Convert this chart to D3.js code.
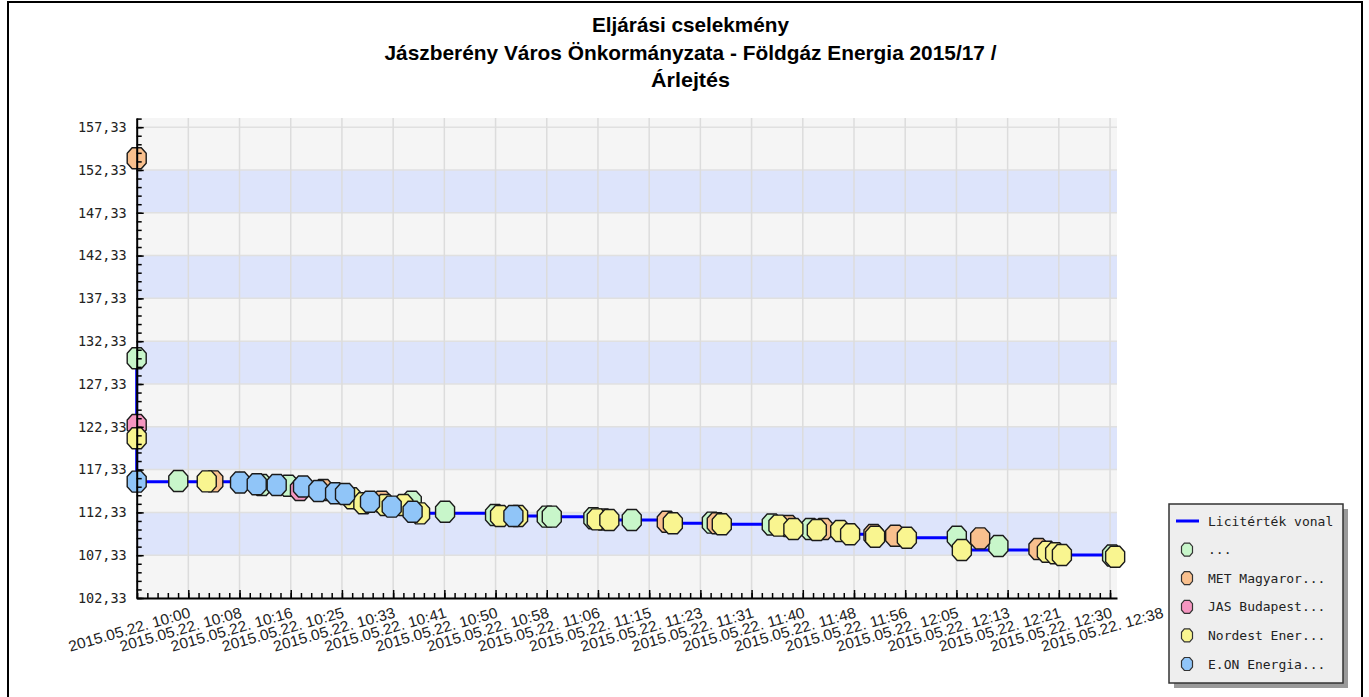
<!DOCTYPE html>
<html>
<head>
<meta charset="utf-8">
<script src="https://cdn.jsdelivr.net/npm/d3@7"></script>
<style>
  body { margin: 0; background: #fff; }
  svg { display: block; }
</style>
</head>
<body>
<div id="chart"></div>
<script>
// bids per bidder: [time, value]
const bidsDots = [
  ["09:51:36", 130.33], ["09:58:22", 116.00], ["10:11:57", 115.53], ["10:16:17", 115.45],
  ["10:36:22", 113.58], ["10:41:47", 112.41], ["10:49:55", 112.03], ["10:58:20", 111.83],
  ["10:59:09", 111.83], ["11:05:55", 111.64], ["11:12:10", 111.44], ["11:25:12", 111.13],
  ["11:34:57", 110.92], ["11:41:12", 110.39], ["12:05:04", 109.49], ["12:11:50", 108.40],
  ["12:30:20", 107.30]
];
const bidsMET = [
  ["09:51:36", 153.70], ["10:04:04", 115.95], ["10:21:58", 114.95], ["10:31:29", 113.58],
  ["11:07:33", 111.50], ["11:17:52", 111.24], ["11:26:00", 111.06], ["11:37:40", 110.74],
  ["11:43:22", 110.39], ["11:51:30", 109.69], ["11:55:02", 109.61], ["12:08:52", 109.30],
  ["12:18:21", 108.05]
];
const bidsJAS = [
  ["09:51:36", 122.54], ["10:18:10", 114.95]
];
const bidsNordest = [
  ["09:51:36", 120.99], ["10:03:00", 115.95], ["10:26:36", 113.98], ["10:28:29", 113.39],
  ["10:32:01", 113.19], ["10:35:00", 113.19], ["10:37:43", 112.22], ["10:50:44", 111.91],
  ["10:53:40", 111.90], ["11:06:28", 111.52], ["11:08:31", 111.44], ["11:18:51", 111.06],
  ["11:26:49", 110.94], ["11:36:02", 110.78], ["11:38:28", 110.39], ["11:42:17", 110.27],
  ["11:46:05", 110.16], ["11:47:42", 109.77], ["11:51:46", 109.49], ["11:56:56", 109.37],
  ["12:05:53", 107.94], ["12:19:43", 107.74], ["12:21:04", 107.55], ["12:22:10", 107.35],
  ["12:30:50", 107.15]
];
const bidsEON = [
  ["09:51:36", 115.92], ["10:08:25", 115.82], ["10:11:08", 115.61], ["10:14:23", 115.53],
  ["10:18:40", 115.36], ["10:21:10", 114.83], ["10:23:53", 114.56], ["10:25:30", 114.48],
  ["10:29:34", 113.58], ["10:33:06", 113.00], ["10:36:30", 112.41], ["10:52:54", 111.91]
];

const seriesNames = ["...", "MET Magyaror...", "JAS Budapest...", "Nordest Ener...", "E.ON Energia..."];
const leadLabel = "Licitérték vonal";

const titleLines = ["Eljárási cselekmény", "Jászberény Város Önkormányzata - Földgáz Energia 2015/17 /", "Árlejtés"];

const yTickValues = [102.33, 107.33, 112.33, 117.33, 122.33, 127.33, 132.33, 137.33, 142.33, 147.33, 152.33, 157.33];
const xTickTimes = ["10:00:00", "10:08:20", "10:16:40", "10:25:00", "10:33:20", "10:41:40", "10:50:00",
  "10:58:20", "11:06:40", "11:15:00", "11:23:20", "11:31:40", "11:40:00", "11:48:20", "11:56:40",
  "12:05:00", "12:13:20", "12:21:40", "12:30:00", "12:38:20"];
const xDomainTimes = ["09:51:36", "12:31:08"];
const yDomain = [102.33, 158.4];

const day = "2015-05-22 ";
const parse = d3.timeParse("%Y-%m-%d %H:%M:%S");
const at = s => parse(day + s);

const W = 1369, H = 697;
const plot = { left: 136.7, right: 1117, top: 118, bottom: 598 };

const colors = ["#c8f6ca", "#f9c08e", "#f596c0", "#f9f590", "#90c5f8"];

const svg = d3.select("#chart").append("svg").attr("width", W).attr("height", H);

// outer frame
svg.append("rect")
  .attr("x", 8).attr("y", 2).attr("width", 1354).attr("height", 720)
  .attr("fill", "none").attr("stroke", "#000").attr("stroke-width", 2);

// title
svg.append("g").selectAll("text").data(titleLines).join("text")
  .attr("x", 690.5)
  .attr("y", (d, i) => 32 + i * 27.5)
  .attr("text-anchor", "middle")
  .attr("textLength", (d, i) => [197, 612, 79][i])
  .attr("lengthAdjust", "spacingAndGlyphs")
  .style("font-family", "'Liberation Sans', Arial, sans-serif")
  .style("font-weight", "bold")
  .style("font-size", "21px")
  .text(d => d);

// scales
const x = d3.scaleTime().domain(xDomainTimes.map(at)).range([plot.left, plot.right]);
const y = d3.scaleLinear().domain(yDomain).range([plot.bottom, plot.top]);

const xTicks = xTickTimes.map(at);
const xInside = xTicks.filter(t => t >= x.domain()[0] && t <= x.domain()[1]);

// background + alternating bands
svg.append("rect")
  .attr("x", plot.left).attr("y", plot.top)
  .attr("width", plot.right - plot.left).attr("height", plot.bottom - plot.top)
  .attr("fill", "#f5f5f5");

svg.append("g").selectAll("rect")
  .data(yTickValues.filter((d, i) => i % 2 === 1 && d + 5 <= yDomain[1]))
  .join("rect")
    .attr("x", plot.left)
    .attr("y", d => y(d + 5))
    .attr("width", plot.right - plot.left)
    .attr("height", d => y(d) - y(d + 5))
    .attr("fill", "#dde4fb");

// gridlines
svg.append("g").selectAll("line").data(yTickValues).join("line")
  .attr("x1", plot.left).attr("x2", plot.right)
  .attr("y1", d => y(d)).attr("y2", d => y(d))
  .attr("stroke", "#e0e0e0").attr("stroke-width", 1.5);

svg.append("g").selectAll("line").data(xInside).join("line")
  .attr("x1", d => x(d)).attr("x2", d => x(d))
  .attr("y1", plot.top).attr("y2", plot.bottom)
  .attr("stroke", "#dcdcdc").attr("stroke-width", 1.5);

// lead value line (running minimum)
const allBids = [bidsDots, bidsMET, bidsJAS, bidsNordest, bidsEON]
  .flatMap((bids, si) => bids.map(([t, v]) => ({ t: at(t), v, si })));
const ordered = allBids.slice().sort((a, b) => a.t - b.t);
let best = Infinity;
const lead = ordered.map(b => { best = Math.min(best, b.v); return { t: b.t, v: best }; });

svg.append("path")
  .datum(lead)
  .attr("fill", "none")
  .attr("stroke", "#0000ff")
  .attr("stroke-width", 3)
  .attr("d", d3.line().curve(d3.curveStepAfter).x(d => x(d.t)).y(d => y(d.v)));

// octagon markers
function octagon(w, h) {
  const a = w / 2, b = h / 2, c = w * 0.24, e = h * 0.24;
  return `M${-c},${-b}L${c},${-b}L${a},${-e}L${a},${e}L${c},${b}L${-c},${b}L${-a},${e}L${-a},${-e}Z`;
}

svg.append("g").selectAll("path").data(allBids).join("path")
  .attr("transform", d => `translate(${x(d.t)},${y(d.v)})`)
  .attr("d", octagon(19, 21))
  .attr("fill", d => colors[d.si])
  .attr("stroke", "#1a1a1a")
  .attr("stroke-width", 1.4);

// axes
const xMinor = d3.range(-5, 100).map(k => new Date(+xTicks[0] + k * 100000))
  .filter(t => t >= x.domain()[0] && t <= x.domain()[1]);

svg.append("g")
  .attr("transform", `translate(0,${plot.bottom})`)
  .call(d3.axisBottom(x).tickValues(xMinor).tickSize(-5).tickFormat(""))
  .call(g => g.select(".domain").remove())
  .call(g => g.selectAll("line").attr("stroke", "#000").attr("stroke-width", 1.5));

svg.append("g")
  .attr("transform", `translate(0,${plot.bottom})`)
  .call(d3.axisBottom(x).tickValues(xInside).tickSizeInner(-8).tickSizeOuter(0).tickFormat(""))
  .call(g => g.select(".domain").attr("stroke", "#000").attr("stroke-width", 2))
  .call(g => g.selectAll("line").attr("stroke", "#000").attr("stroke-width", 1.5));

const yMinor = d3.range(102.33, 158.4, 1);
svg.append("g")
  .attr("transform", `translate(${plot.left},0)`)
  .call(d3.axisLeft(y).tickValues(yMinor).tickSize(-5).tickFormat(""))
  .call(g => g.select(".domain").remove())
  .call(g => g.selectAll("line").attr("stroke", "#000").attr("stroke-width", 1.5));

svg.append("g")
  .attr("transform", `translate(${plot.left},0)`)
  .call(d3.axisLeft(y).tickValues(yTickValues).tickSizeInner(-7).tickSizeOuter(0).tickPadding(10)
    .tickFormat(d => d3.format(".2f")(d).replace(".", ",")))
  .call(g => g.select(".domain").attr("stroke", "#000").attr("stroke-width", 2))
  .call(g => g.selectAll("line").attr("stroke", "#000").attr("stroke-width", 1.5))
  .call(g => g.selectAll("text")
    .style("font-family", "'DejaVu Sans Mono', monospace")
    .style("font-size", "13.5px")
    .attr("fill", "#222"));

// rotated x labels
const fmtX = d3.timeFormat("%Y.%m.%d. %H:%M");
svg.append("g").selectAll("text").data(xTicks).join("text")
  .attr("transform", d => `translate(${x(d) + 3},${617}) rotate(-16)`)
  .attr("text-anchor", "end")
  .attr("textLength", 126)
  .attr("lengthAdjust", "spacingAndGlyphs")
  .style("font-family", "'Liberation Sans', Arial, sans-serif")
  .style("font-size", "15px")
  .attr("fill", "#222")
  .text(d => fmtX(d));

// legend
const lg = svg.append("g").attr("transform", "translate(1169,504)");
lg.append("rect").attr("x", 5).attr("y", 5).attr("width", 174).attr("height", 179).attr("fill", "#9a9a9a");
lg.append("rect").attr("width", 174).attr("height", 179)
  .attr("fill", "#eeeeee").attr("stroke", "#333").attr("stroke-width", 1.5);

const rowY = i => 17 + i * 28.6;
lg.append("line").attr("x1", 7).attr("x2", 30).attr("y1", rowY(0)).attr("y2", rowY(0))
  .attr("stroke", "#0000ff").attr("stroke-width", 3);

lg.selectAll("path.key").data(seriesNames).join("path")
  .attr("class", "key")
  .attr("transform", (d, i) => `translate(18,${rowY(i + 1)})`)
  .attr("d", octagon(11, 13))
  .attr("fill", (d, i) => colors[i])
  .attr("stroke", "#333").attr("stroke-width", 1.2);

lg.selectAll("text").data([leadLabel, ...seriesNames]).join("text")
  .attr("x", 39)
  .attr("y", (d, i) => rowY(i))
  .attr("dy", "0.35em")
  .style("font-family", "'DejaVu Sans Mono', monospace")
  .style("font-size", "13px")
  .attr("fill", "#222")
  .text(d => d);
</script>
</body>
</html>
